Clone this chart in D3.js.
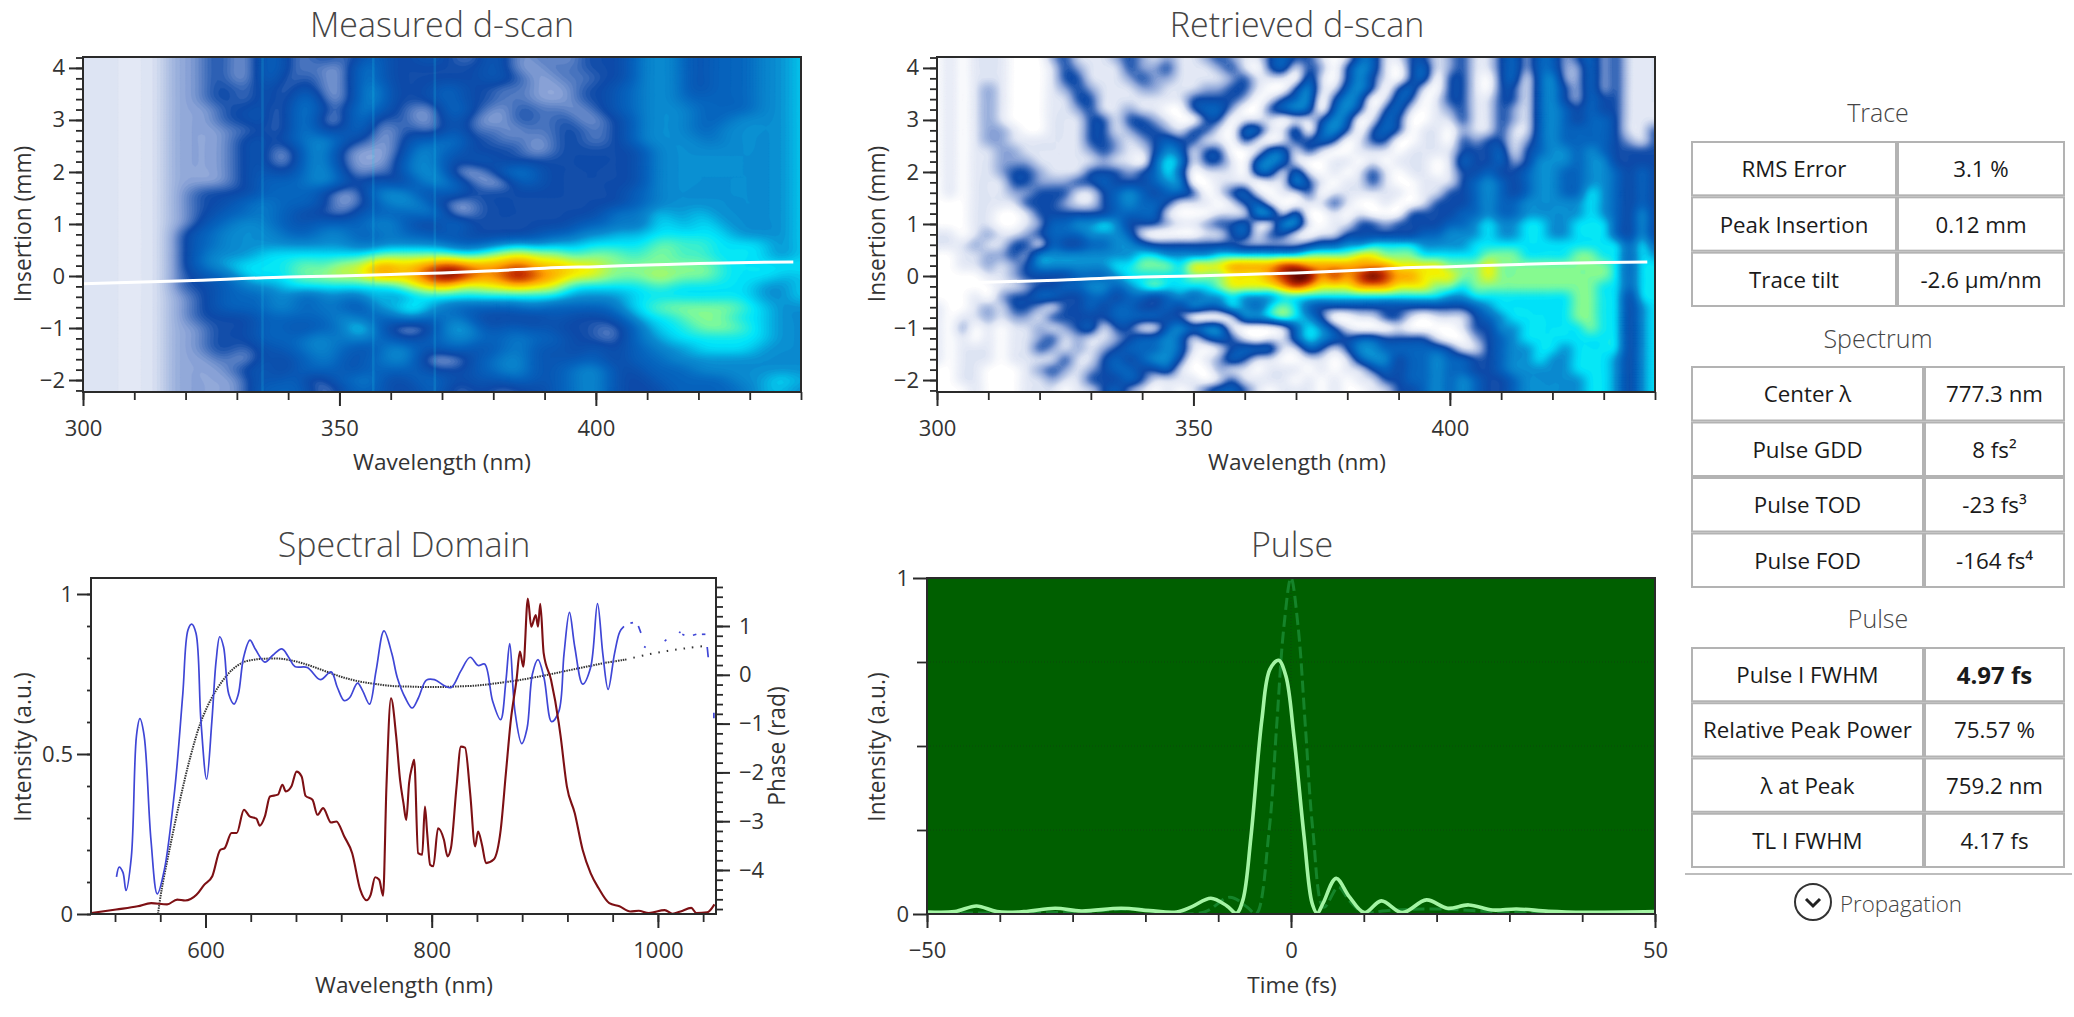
<!DOCTYPE html>
<html><head><meta charset="utf-8">
<script src="https://cdn.jsdelivr.net/npm/d3@7"></script>
<style>
html,body{margin:0;padding:0;background:#fff;overflow:hidden}
text{font-family:"Open Sans","Noto Sans",sans-serif}
</style></head><body><svg id="c" width="2074" height="1017"></svg>
<script>
// ---------- heat-map levels: 300-440 nm step 2.5, 4.2..-2.2 mm step 0.2 (one char per cell, base 12)
const measuredRows = [
"11111112223322443233324433343 3234322322333345554344445556",
"11111112223322443232235433333 3334322232333345554344445556",
"11111112223322442332235433333 3334332223233345554344445556",
"11111112223332432432235533334 4333232222333445554344445556",
"11111112223332432542235533334 4333232222333445554444445556",
"11111112222333423543245433223 5332233232233445555444445556",
"11111112222333423542245233223 4322233233223345555444555556",
"11111112222232423543344223323 4323223233323345555445555556",
"11111112222233424455433223444 5333232233323345555545555556",
"11111112222233422455322223554 4333332233333334555555555556",
"11111112222233422455322224554 3343333333333334555555555556",
"11111112222233433455422324555 2223454333333334555555555556",
"11111112222233444455433433455 4322244333333334555555555556",
"11111112233333444443223555434 4333333333333344555555555556",
"11111112233344544443223455543 2233333333333344555555555556",
"11111112233444544333234444454 2233333333334545655655555556",
"11111112234455544344444554333 5333333333444545665665555556",
"11111112344555554445544454443 4333333444555656666666555556",
"11111112344555555555554555555 4445565565666666776766666556",
"11111112345555666666666777777 7677888786777767776766666556",
"1111111234556666677687899899a a9999a9898887777777776666666",
"1111111233445666677787899 89ab ba99aba998887777877776666656",
"11111112333445556666666667889 8788898886666666766666665556",
"11111112233444455445545655666 6666666665555566666666665556",
"11111112233444455445443656755 4444445444444566777777766555",
"11111112233333444444554445544 5433333343333456667777666555",
"11111112223333444344466432234 6543443433332345666777766555",
"11111112223333444455455443344 5544454443332345566666666555",
"11111112223332434455443455434 4434454343343344555666665555",
"11111112222322433445434455422 2344554343443344455555555555",
"11111112222233433444434444433 3344554344554334444555555555",
"11111112222223434423445433444 3343444344554333444444555665",
"11111112222223444432344433344 2333233344554333344444455655"
].map(r=>{const p=r.split(" ");const s=p.join("");return s.slice(0,29)+" "+s.slice(29);});
const retrievedRows = [
"01011100023111232121123211343 3101441133123113424423423111",
"01011100013211132231112310341 3203541034123113424422423111",
"01011100013311123221111231110 4103531034033103414522423111",
"01012100012321112211122331003 5114530341033103314532423111",
"01012100011331111111333320134 5035401430133113314532433111",
"01012100011231121100344200345 4045303410123113214543433111",
"01012100011133133210033011101 1354014300113113214543443111",
"01012210011133123321331044114 0453034301102113114544443113",
"01012211111133212343311031013 3430133001103233124544443213",
"01011221111123211354133001441 3100111011113334134554543333",
"01011222111112110465133104541 0011010111014334235554553333",
"01011233211133323464011104414 1010131011013343345544554343",
"01011133222334333455001110115 3101131001113454345544554343",
"01011122333113454344301341011 3011111101133454345544654343",
"00011113332113454431110134100 1131001001333454455555654343",
"00011001333333444410001115514 0010100033334454455555654353",
"00011001244556533321123341155 1011332333344565566556664353",
"11012112344455541000011341331 0113333334455565566556664353",
"11121133143344554333333322222 3445566665555666666666666464",
"00112232555555556655556666666 7777887776666677766667766465",
"001121235555556677768889999aa 9999999888877787777777776466",
"000011233334445666667778889ab b9a9aba998887787777777776466",
"00000112334455456766667888 89a 9888999888776777777777766466",
"00010233443344344345455655566 6666666666655666666667766366",
"10012133213343443343544654676 4333333333333456666667766356",
"10112122133333444433000155676 5300113310111345666667766356",
"10201011212341331145455100014 6531000100001335566666766356",
"10101011231211234454134310114 6543443333100234566666666356",
"10111011321212344454101344411 4313554444431134556656666356",
"10111011113113434553012431100 1101455344544334556556665356",
"00110001232123443341002110111 0101134344544334555556665356",
"00110001121133343111101311110 1010113344545433455555665356",
"00010001110113421010134431011 1010011334545433455555665356"
].map(r=>{const p=r.split(" ");const s=p.join("");return s.slice(0,29)+" "+s.slice(29);});
const gridWavelengths = d3.range(300, 440.01, 2.5);
const gridInsertions = d3.range(4.2, -2.21, -0.2);
const colourLevels = ["#ffffff","#e1e7f4","#8ea6d8","#0d49a8","#0663bd","#0a8bd0","#00e6fb","#80fa98","#f2f500","#ffa200","#c83200","#5a0000"];
// ---------- measured artefact columns (nm)
const hotColumns = [335, 356.6, 368.6];
// ---------- white ridge line
const ridgeNm = [300,320,340,350,360,370,380,390,400,410,420,430,438.5];
const ridgeMm = [-0.15,-0.09,-0.02,0,0.03,0.06,0.1,0.15,0.18,0.21,0.24,0.26,0.27];
// ---------- spectrum
const specNm = [499,521,540,552,566,575,582,592,599,606,613,617,623,627.6,634,639,645,648,652.5,657,664,668,671,676,680.5,685,688.5,694.6,699,704,711,715.7,722.7,729.7,736.8,742.4,746,750,753.6,757,760,764,768.6,772,775,777.5,780,782.7,784.5,788,791.6,794,796,798.6,801.4,805.6,810.8,814,817,822,825.8,829.5,834,838.4,841,844.5,848,854.8,861,865.6,870,875,878,881,885,888,892,894,896,899,905.5,912.4,914,919.5,926.5,933.5,940.5,947.5,957,966,975.6,983,992,1006,1013,1020,1029.5,1034,1043.6,1050];
const specI = [.003,.014,.024,.034,.03,.045,.042,.06,.092,.118,.2,.206,.253,.253,.326,.305,.298,.276,.305,.367,.373,.404,.383,.399,.445,.43,.369,.357,.31,.331,.286,.289,.242,.19,.076,.043,.06,.115,.107,.057,.4,.674,.555,.42,.347,.294,.409,.461,.482,.19,.185,.336,.253,.154,.149,.268,.232,.18,.206,.399,.523,.52,.378,.211,.258,.216,.159,.17,.263,.44,.607,.732,.82,.773,.986,.898,.934,.898,.969,.815,.732,.596,.555,.399,.315,.2,.128,.081,.034,.024,.008,.01,.003,.012,.001,.008,.019,.003,.005,.03];
// ---------- phase (blue)
const phaseNm = [521.3,523.7,527,529.7,534.4,539,542,545.7,551.8,557.4,563.5,572.8,579.9,584.5,587.8,591.6,596,601,605.6,609.4,612.6,616,620.6,625.3,629,633.7,639.3,644,652.5,659.5,667.5,673.5,679,690,701.6,711,716.6,722.7,727.4,734.4,739,745,750.8,757.8,764.8,769.6,776.6,782.7,788.3,795.3,802.4,811.7,817.3,825.8,834,841,846.8,853.9,860.9,865.6,869,873.6,879.6,884.3,889,894,899.3,906,912.4,917,921.8,926.5,933.5,940.5,946.6,951.3,956,961.6,966.3,970];
const phaseRad = [-4.14,-3.94,-4.05,-4.42,-3.74,-1.24,-.9,-1.24,-3.39,-4.49,-4.01,-2.35,-.4,.92,1.04,.85,-.96,-2.14,-.96,.29,.78,.57,-.4,-.6,-.4,.36,.71,.53,.26,.4,.53,.36,.17,.15,-.1,.06,-.26,-.53,-.47,-.17,-.33,-.6,.08,.9,.43,-.06,-.47,-.68,-.47,-.11,-.1,-.23,-.26,.08,.36,.19,.22,-.54,-.92,-.13,.64,-.75,-1.41,-1.1,.01,.31,-.06,-.96,-.75,.43,1.28,.57,-.19,.15,1.46,.43,-.3,.43,.88,.99];
const phaseTail = [[[975.7,1.06],[978,1.07]],[[982.7,1],[985,.86]],[[987.8,.58],[989.2,.56]],[[1006,.69],[1007.5,.72]],[[1018.7,.88],[1020,.86]],[[1021.6,.83],[1023.4,.81]],[[1031,.81],[1034,.83]],[[1038.9,.83],[1042,.83]],[[1043.6,.57],[1044.5,.36]],[[1049.5,-.78],[1049.5,-.89]]];
// ---------- fitted phase (dotted)
const fitNm = [557.4,561,568,577.5,587,596,605.6,615,624.4,633.7,643,652.5,666.5,680.6,694.6,708.7,722.7,736.8,750.8,765,779,793,807,821,840,858.6,877,896,914.8,933.5,952.2,971];
const fitRad = [-5,-4.43,-3.6,-2.56,-1.65,-.96,-.47,-.125,.12,.26,.31,.33,.33,.27,.17,.05,-.06,-.14,-.19,-.23,-.24,-.25,-.25,-.24,-.22,-.17,-.11,-.03,.06,.15,.24,.31];
const fitTailNm = [971,989.7,1008.4,1027,1045];
const fitTailRad = [.31,.41,.49,.55,.6];
// ---------- pulse
const pulseT = [-50,-46.2,-43.2,-40.4,-36.7,-32.4,-28.8,-23.3,-19.4,-15.7,-13.6,-11,-8.8,-7.5,-6.6,-5.5,-4,-2.9,-1.7,-.7,.4,1.8,2.9,3.6,4.4,6.2,8,10.1,12.4,15.3,18.6,21.5,24.4,27.7,31,35.4,40.5,50];
const pulseI = [.006,.007,.024,.007,.007,.017,.009,.017,.01,.006,.022,.047,.024,.002,.042,.23,.579,.728,.755,.708,.529,.23,.032,.002,.032,.106,.052,.004,.039,.004,.042,.017,.027,.012,.015,.008,.005,.007];
const tlT = [-50,-30,-21,-18,-12,-8.4,-6,-4.8,-3,-2,-1,0,1,2,3,4.5,6.5,8,10,13,20,30,50];
const tlI = [.003,.005,.015,.006,.005,.05,.02,0,.25,.55,.85,1,.85,.55,.25,.02,.08,.04,.004,.01,.015,.005,.003];
// ---------- axes
const nmMajor=[300,350,400], nmMinor=d3.range(300,441,10);
const mmMajor=[-2,-1,0,1,2,3,4], mmMinor=d3.range(-2.2,4.21,0.2);
const specMajor=[600,800,1000], specMinor=d3.range(520,1041,40);
const intMajor=[0,0.5,1], intMinor=d3.range(0,1.01,0.1);
const radMajor=[-4,-3,-2,-1,0,1], radMinor=d3.range(-4.8,1.81,0.2);
const tMajor=[-50,0,50], tMinor=d3.range(-50,51,10);
const pMajor=[0,1], pMinor=[0.25,0.5,0.75];
// ---------- tables
const traceLabels=["RMS Error","Peak Insertion","Trace tilt"], traceValues=["3.1 %","0.12 mm","-2.6 µm/nm"];
const spectrumLabels=["Center λ","Pulse GDD","Pulse TOD","Pulse FOD"], spectrumValues=["777.3 nm","8 fs²","-23 fs³","-164 fs⁴"];
const pulseLabels=["Pulse I FWHM","Relative Peak Power","λ at Peak","TL I FWHM"], pulseValues=["4.97 fs","75.57 %","759.2 nm","4.17 fs"];

const svg=d3.select("#c");
const DARK="#2a2a2a", TITLE="#454545", LAB="#333";
const defs=svg.append("defs");
const levelScale=d3.scaleLinear().domain(d3.range(12)).range(colourLevels).interpolate(d3.interpolateRgb).clamp(true);

function parseGrid(rows){
  const out=[];
  rows.forEach(r=>{
    const parts=r.split(" ").filter(Boolean);
    let l=parts[0], rr=parts.slice(1).join("");
    l=(l+l.slice(-1).repeat(29)).slice(0,29);
    rr=(rr+rr.slice(-1).repeat(28)).slice(0,28);
    (l+rr).split("").forEach(c=>out.push(parseInt(c,12)));
  });
  return out;
}
// resample the read cells on a finer raster so that iso-bands come out smooth, as the image display of the original does
function resample(vals,nx,ny,f,bx,by){
  const W=(nx-1)*f+1,H=(ny-1)*f+1,out=new Float64Array(W*H);
  const at=(i,j)=>vals[Math.max(0,Math.min(ny-1,j))*nx+Math.max(0,Math.min(nx-1,i))];
  const cr=(a,b,c,d,t)=>0.5*(2*b+(c-a)*t+(2*a-5*b+4*c-d)*t*t+(3*b-a-3*c+d)*t*t*t);
  for(let y=0;y<H;y++){const j=Math.floor(y/f),v=y/f-j;
    for(let x=0;x<W;x++){const i=Math.floor(x/f),u=x/f-i;
      const c=[-1,0,1,2].map(dj=>cr(at(i-1,j+dj),at(i,j+dj),at(i+1,j+dj),at(i+2,j+dj),u));
      out[y*W+x]=cr(c[0],c[1],c[2],c[3],v);
    }}
  const g={data:out,width:W,height:H};
  if(d3.blur2) d3.blur2(g,f*bx,f*by);
  return g;
}
function title(x,y,t){svg.append("text").attr("x",x).attr("y",y).attr("text-anchor","middle").attr("font-size",34).attr("font-weight",300).attr("fill",TITLE).text(t);}
function axisLabel(x,y,t){svg.append("text").attr("x",x).attr("y",y).attr("text-anchor","middle").attr("font-size",22.6).attr("fill",LAB).text(t);}
function vLabel(x,y,t){svg.append("text").attr("transform",`translate(${x},${y}) rotate(-90)`).attr("text-anchor","middle").attr("font-size",22.8).attr("fill",LAB).text(t);}
function drawAxis(orient,scale,pos,majors,minors,majLen,minLen,pad){
  const make=d3[orient];
  const tr=(orient==="axisBottom")?`translate(0,${pos})`:`translate(${pos},0)`;
  const gm=svg.append("g").attr("transform",tr).call(make(scale).tickValues(minors).tickSize(minLen).tickFormat(""));
  gm.select(".domain").remove(); gm.selectAll("line").attr("stroke",DARK).attr("stroke-width",1.8);
  const g=svg.append("g").attr("transform",tr).call(make(scale).tickValues(majors).tickSize(majLen).tickPadding(pad).tickFormat(d3.format("")));
  g.select(".domain").remove(); g.selectAll("line").attr("stroke",DARK).attr("stroke-width",2);
  g.selectAll("text").attr("font-size",22).attr("fill",LAB).attr("font-family",'"Open Sans"');
}
function frame(x0,y0,x1,y1){svg.append("rect").attr("x",x0).attr("y",y0).attr("width",x1-x0).attr("height",y1-y0).attr("fill","none").attr("stroke",DARK).attr("stroke-width",2);}

function dscan(cfg){
  const {x0,x1,y0,y1,rows,id,ttl,tx,lx}=cfg;
  const X=d3.scaleLinear().domain([300,440]).range([x0,x1]);
  const Y=d3.scaleLinear().domain([-2.23,4.21]).range([y1,y0]);
  const nx=gridWavelengths.length, ny=gridInsertions.length;
  const g0=resample(parseGrid(rows),nx,ny,4,cfg.bx,cfg.by);
  const gx=d3.scaleLinear().domain([0.5,g0.width-0.5]).range([X(gridWavelengths[0]),X(gridWavelengths[nx-1])]);
  const gy=d3.scaleLinear().domain([0.5,g0.height-0.5]).range([Y(gridInsertions[0]),Y(gridInsertions[ny-1])]);
  const thresholds=d3.range(0.1,11.01,0.1);
  const contours=d3.contours().size([g0.width,g0.height]).smooth(true).thresholds(thresholds)(Array.from(g0.data));
  const path=d3.geoPath(d3.geoTransform({point(a,b){this.stream.point(gx(a),gy(b));}}));
  defs.append("clipPath").attr("id",id).append("rect").attr("x",x0).attr("y",y0).attr("width",x1-x0).attr("height",y1-y0);
  const clip=svg.append("g").attr("clip-path",`url(#${id})`);
  clip.append("rect").attr("x",x0).attr("y",y0).attr("width",x1-x0).attr("height",y1-y0).attr("fill",colourLevels[0]);
  const g=clip.append("g");
  g.selectAll("path").data(contours).join("path").attr("d",path)
    .attr("fill",d=>levelScale(d.value+0.05)).attr("stroke",d=>levelScale(d.value+0.05)).attr("stroke-width",0.3);
  if(cfg.hot){clip.selectAll("line.h").data(cfg.hot).join("line").attr("x1",d=>X(d)).attr("x2",d=>X(d)).attr("y1",y0).attr("y2",y1)
    .attr("stroke","#19d2ee").attr("stroke-width",2.5).attr("opacity",0.18);}
  const ridge=d3.line().x((d,i)=>X(d)).y((d,i)=>Y(ridgeMm[i])).curve(d3.curveMonotoneX);
  clip.append("path").attr("d",ridge(ridgeNm)).attr("fill","none").attr("stroke","#fff").attr("stroke-width",3);
  drawAxis("axisBottom",X,y1,nmMajor,nmMinor,14,8,14);
  drawAxis("axisLeft",Y,x0,mmMajor,mmMinor,14,7,4);
  frame(x0,y0,x1,y1);
  title(tx,37,ttl);
  axisLabel(tx,470,"Wavelength (nm)");
  vLabel(lx,224,"Insertion (mm)");
}
dscan({x0:83,x1:801,y0:57,y1:392,rows:measuredRows,id:"cm",ttl:"Measured d-scan",tx:442,lx:31,hot:hotColumns,bx:0.7,by:0.3});
dscan({x0:937,x1:1655,y0:57,y1:392,rows:retrievedRows,id:"cr",ttl:"Retrieved d-scan",tx:1297,lx:885,bx:0.2,by:0.2});

// ---------- spectral domain
(function(){
  const x0=91,x1=716,y0=578,y1=914;
  const X=d3.scaleLinear().domain([600,800]).range([205.5,431.7]);
  const Y=d3.scaleLinear().domain([0,1]).range([914,594]);
  const P=d3.scaleLinear().domain([-4,1]).range([870,626]);
  defs.append("clipPath").attr("id","cs").append("rect").attr("x",x0).attr("y",y0).attr("width",x1-x0).attr("height",y1-y0);
  const g=svg.append("g").attr("clip-path","url(#cs)");
  const dot=(xs,ys)=>d3.line().x(d=>X(d)).y((d,i)=>P(ys[i])).curve(d3.curveCatmullRom)(xs);
  g.append("path").attr("d",dot(fitNm,fitRad)).attr("fill","none").attr("stroke","#333").attr("stroke-width",2).attr("stroke-dasharray","1.5 1");
  g.append("path").attr("d",dot(fitTailNm,fitTailRad)).attr("fill","none").attr("stroke","#333").attr("stroke-width",2).attr("stroke-dasharray","1.5 7");
  g.append("path").attr("d",dot(phaseNm,phaseRad)).attr("fill","none").attr("stroke","#3f46d6").attr("stroke-width",1.7);
  const seg=d3.line().x(d=>X(d[0])).y(d=>P(d[1]));
  g.selectAll("path.t").data(phaseTail).join("path").attr("class","t").attr("d",seg).attr("fill","none").attr("stroke","#3f46d6").attr("stroke-width",1.7);
  g.append("path").attr("d",d3.line().x(d=>X(d)).y((d,i)=>Y(specI[i])).curve(d3.curveMonotoneX)(specNm)).attr("fill","none").attr("stroke","#7d1014").attr("stroke-width",2.1).attr("stroke-linejoin","round");
  drawAxis("axisBottom",X,y1,specMajor,specMinor,14,8,14);
  drawAxis("axisLeft",Y,x0,intMajor,intMinor,14,4,4);
  drawAxis("axisRight",P,x1,radMajor,radMinor,14,7,9);
  frame(x0,y0,x1,y1);
  title(404,557,"Spectral Domain");
  axisLabel(404,993,"Wavelength (nm)");
  vLabel(31,747,"Intensity (a.u.)");
  vLabel(785,746,"Phase (rad)");
})();

// ---------- pulse
(function(){
  const x0=927,x1=1655,y0=578,y1=914;
  const X=d3.scaleLinear().domain([-50,50]).range([x0,x1]);
  const Y=d3.scaleLinear().domain([0,1]).range([y1,y0]);
  svg.append("rect").attr("x",x0).attr("y",y0).attr("width",x1-x0).attr("height",y1-y0).attr("fill","#005f00");
  defs.append("clipPath").attr("id","cp").append("rect").attr("x",x0).attr("y",y0).attr("width",x1-x0).attr("height",y1-y0);
  const g=svg.append("g").attr("clip-path","url(#cp)");
  g.selectAll("line.gy").data(pMinor).join("line").attr("x1",x0).attr("x2",x1).attr("y1",d=>Y(d)).attr("y2",d=>Y(d)).attr("stroke","#0b4a0b").attr("stroke-dasharray","1 2").attr("stroke-width",1);
  g.append("line").attr("x1",X(0)).attr("x2",X(0)).attr("y1",y0).attr("y2",y1).attr("stroke","#0b4a0b").attr("stroke-dasharray","1 2").attr("stroke-width",1);
  const ln=(ys)=>d3.line().x(d=>X(d)).y((d,i)=>Y(ys[i])).curve(d3.curveCatmullRom);
  g.append("path").attr("d",ln(tlI)(tlT)).attr("fill","none").attr("stroke","#15842a").attr("stroke-width",3).attr("stroke-dasharray","12 5");
  g.append("path").attr("d",ln(pulseI)(pulseT)).attr("fill","none").attr("stroke","#a4f4a4").attr("stroke-width",3.6);
  drawAxis("axisBottom",X,y1,tMajor,tMinor,14,8,14);
  const gm=svg.append("g").attr("transform",`translate(${x0},0)`).call(d3.axisLeft(Y).tickValues(pMinor).tickSize(10).tickFormat(""));
  gm.select(".domain").remove(); gm.selectAll("line").attr("stroke",DARK).attr("stroke-width",1.8);
  drawAxis("axisLeft",Y,x0,pMajor,[],14,0,4);
  frame(x0,y0,x1,y1);
  title(1292,557,"Pulse");
  axisLabel(1292,993,"Time (fs)");
  vLabel(885,747,"Intensity (a.u.)");
})();

// ---------- tables
function table(cfg){
  const {y0,y1,split,labels,values,head,headY}=cfg, xl=1691,xr=2065,h=(y1-y0)/labels.length;
  svg.append("text").attr("x",1878).attr("y",headY).attr("text-anchor","middle").attr("dominant-baseline","central").attr("font-size",25).attr("font-weight",300).attr("fill",TITLE).text(head);
  labels.forEach((t,i)=>{
    const cy=y0+h*i;
    [[xl,split],[split,xr]].forEach(([a,b])=>{
      svg.append("rect").attr("x",a+1).attr("y",cy+1).attr("width",b-a-2).attr("height",h-2).attr("fill","#fff").attr("stroke","#b3b3b3").attr("stroke-width",2);
    });
    svg.append("text").attr("x",(xl+split)/2).attr("y",cy+h/2).attr("text-anchor","middle").attr("dominant-baseline","central").attr("font-size",22.3).attr("fill","#1a1a1a").text(t);
    const bold=values[i]==="4.97 fs";
    svg.append("text").attr("x",(split+xr)/2).attr("y",cy+h/2).attr("text-anchor","middle").attr("dominant-baseline","central").attr("font-size",bold?24:22.3).attr("font-weight",bold?700:400).attr("fill","#1a1a1a").text(values[i]);
  });
}
table({y0:141,y1:307,split:1897,labels:traceLabels,values:traceValues,head:"Trace",headY:112});
table({y0:366,y1:588,split:1924,labels:spectrumLabels,values:spectrumValues,head:"Spectrum",headY:338});
table({y0:647,y1:868,split:1924,labels:pulseLabels,values:pulseValues,head:"Pulse",headY:618});
svg.append("line").attr("x1",1685).attr("x2",2072).attr("y1",874).attr("y2",874).attr("stroke","#bdbdbd").attr("stroke-width",2);
svg.append("circle").attr("cx",1813).attr("cy",902).attr("r",18).attr("fill","none").attr("stroke","#333").attr("stroke-width",2);
svg.append("path").attr("d","M1806 899 L1813 906 L1820 899").attr("fill","none").attr("stroke","#222").attr("stroke-width",3);
svg.append("text").attr("x",1840).attr("y",903).attr("dominant-baseline","central").attr("font-size",22.3).attr("font-weight",300).attr("fill","#444").text("Propagation");
</script></body></html>
